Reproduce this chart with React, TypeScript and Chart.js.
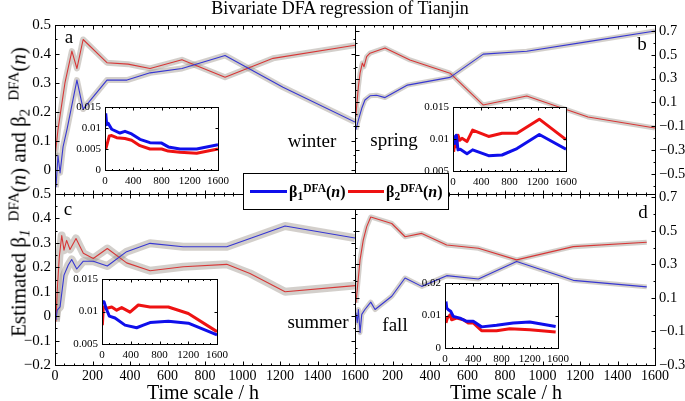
import React, { useEffect, useRef } from "react";
import { Chart, registerables } from "chart.js";

Chart.register(...registerables);

const PAGE_W = 685;
const PAGE_H = 401;
const SERIF = "'Liberation Serif', 'Times New Roman', serif";

// ---------- Panel a : winter ----------
const winterB1Hours = [5, 16, 27, 43, 64, 117, 150, 277, 384, 507, 677, 907, 1216, 1600];
const winterB1Values = [-0.06, 0.05, -0.01, 0.08, 0.14, 0.31, 0.21, 0.31, 0.31, 0.335, 0.35, 0.395, 0.285, 0.165];
const winterB2Hours = [0, 16, 53, 90, 117, 150, 277, 390, 507, 677, 907, 1163, 1600];
const winterB2Values = [0.045, 0.14, 0.3, 0.41, 0.35, 0.45, 0.37, 0.365, 0.35, 0.38, 0.32, 0.385, 0.43];
const winterInsetB1Hours = [10, 24, 47, 95, 212, 283, 377, 495, 637, 802, 896, 1062, 1298, 1600];
const winterInsetB1Values = [0.0135, 0.0108, 0.0111, 0.0097, 0.0088, 0.0092, 0.0086, 0.0073, 0.0065, 0.0064, 0.0055, 0.005, 0.005, 0.006];
const winterInsetB2Hours = [10, 24, 61, 95, 165, 283, 377, 495, 637, 802, 896, 1062, 1298, 1600];
const winterInsetB2Values = [0.005, 0.0058, 0.0081, 0.0082, 0.0077, 0.0075, 0.0071, 0.0058, 0.005, 0.005, 0.0045, 0.0042, 0.004, 0.005];

// ---------- Panel b : spring ----------
const springB1Hours = [5, 18, 36, 53, 80, 115, 160, 280, 507, 684, 916, 1243, 1600];
const springB1Values = [-0.13, -0.05, 0.05, 0.12, 0.155, 0.16, 0.14, 0.245, 0.31, 0.505, 0.53, 0.61, 0.7];
const springB2Hours = [4, 18, 27, 39, 48, 62, 80, 160, 293, 507, 683, 916, 1243, 1600];
const springB2Values = [-0.02, 0.232, 0.345, 0.43, 0.4, 0.484, 0.513, 0.557, 0.456, 0.345, 0.078, 0.154, -0.023, -0.115];
const springInsetB1Hours = [9, 23, 47, 71, 103, 198, 278, 504, 694, 906, 1222, 1600];
const springInsetB1Values = [0.0106, 0.0093, 0.0106, 0.0083, 0.0084, 0.0077, 0.0083, 0.0074, 0.0075, 0.0085, 0.0107, 0.0084];
const springInsetB2Hours = [9, 23, 47, 71, 94, 127, 198, 278, 504, 694, 906, 1222, 1600];
const springInsetB2Values = [0.008, 0.0093, 0.0088, 0.0106, 0.0098, 0.0101, 0.0096, 0.0114, 0.0104, 0.0109, 0.0109, 0.0131, 0.0099];

// ---------- Panel c : summer ----------
const summerB1Hours = [5, 12, 27, 48, 71, 89, 116, 151, 204, 279, 382, 507, 684, 916, 1040, 1227, 1600];
const summerB1Values = [-0.016, 0.025, 0.038, 0.168, 0.209, 0.232, 0.193, 0.225, 0.225, 0.205, 0.264, 0.298, 0.284, 0.284, 0.318, 0.369, 0.32];
const summerB2Hours = [5, 12, 23, 36, 48, 62, 80, 112, 151, 204, 279, 382, 507, 684, 916, 1040, 1227, 1600];
const summerB2Values = [-0.023, 0.107, 0.243, 0.33, 0.27, 0.31, 0.273, 0.318, 0.257, 0.236, 0.277, 0.218, 0.186, 0.202, 0.212, 0.175, 0.1, 0.125];
const summerInsetB1Hours = [0, 28, 56, 102, 181, 320, 482, 575, 668, 923, 1201, 1600];
const summerInsetB1Values = [0.0115, 0.0115, 0.0105, 0.0093, 0.009, 0.0079, 0.0075, 0.0079, 0.0083, 0.0085, 0.0082, 0.0064];
const summerInsetB2Hours = [5, 19, 65, 135, 204, 274, 390, 505, 668, 923, 1201, 1600];
const summerInsetB2Values = [0.0079, 0.0107, 0.0105, 0.0107, 0.0102, 0.0106, 0.0099, 0.011, 0.0107, 0.0107, 0.0097, 0.0069];

// ---------- Panel d : fall ----------
const fallB1Hours = [5, 12, 18, 27, 36, 53, 84, 107, 196, 267, 356, 489, 658, 862, 1164, 1556];
const fallB1Values = [0.012, -0.047, 0.031, -0.107, 0.002, 0.031, 0.075, 0.031, 0.11, 0.219, 0.169, 0.233, 0.213, 0.317, 0.205, 0.166];
const fallB2Hours = [5, 12, 27, 44, 62, 84, 196, 267, 356, 489, 658, 862, 1164, 1556];
const fallB2Values = [0.071, 0.15, 0.327, 0.445, 0.524, 0.583, 0.544, 0.465, 0.485, 0.416, 0.396, 0.327, 0.406, 0.432];
const fallInsetB1Hours = [14, 24, 47, 80, 118, 212, 306, 400, 518, 730, 965, 1200, 1567];
const fallInsetB1Values = [0.0143, 0.0123, 0.0118, 0.0113, 0.0097, 0.0092, 0.0082, 0.0082, 0.0065, 0.007, 0.0077, 0.008, 0.0066];
const fallInsetB2Hours = [14, 33, 71, 94, 165, 259, 329, 400, 518, 730, 918, 1200, 1567];
const fallInsetB2Values = [0.0077, 0.0092, 0.0102, 0.0087, 0.0092, 0.0087, 0.0077, 0.0077, 0.0053, 0.0053, 0.0059, 0.0056, 0.0049];

// ---------- ticks ----------
const mainXTicks = [0, 200, 400, 600, 800, 1000, 1200, 1400, 1600];
const mainXLabelsRight = [200, 400, 600, 800, 1000, 1200, 1400, 1600];
const mainXMinor = [50, 100, 150, 250, 300, 350, 450, 500, 550, 650, 700, 750, 850, 900, 950, 1050, 1100, 1150, 1250, 1300, 1350, 1450, 1500, 1550];
const winterYTicks = [0, 0.1, 0.2, 0.3, 0.4, 0.5];
const winterYMinor = [-0.05, 0.05, 0.15, 0.25, 0.35, 0.45];
const summerYTicks = [-0.2, -0.1, 0, 0.1, 0.2, 0.3, 0.4, 0.5];
const summerYMinor = [-0.15, -0.05, 0.05, 0.15, 0.25, 0.35, 0.45];
const springYTicks = [-0.5, -0.3, -0.1, 0.1, 0.3, 0.5, 0.7];
const springYMinor = [-0.6, -0.4, -0.2, 0, 0.2, 0.4, 0.6];
const fallYTicks = [-0.3, -0.1, 0.1, 0.3, 0.5, 0.7];
const fallYMinor = [-0.2, 0, 0.2, 0.4, 0.6];
const insetXTicks = [0, 400, 800, 1200, 1600];
const insetXMinor = [100, 200, 300, 500, 600, 700, 900, 1000, 1100, 1300, 1400, 1500];
const insetYTicksA = [0, 0.005, 0.01, 0.015];
const insetYTicksBC = [0.005, 0.01, 0.015];
const insetYTicksD = [0, 0.01, 0.02];

const MAIN_BLUE = "rgb(55,55,210)";
const MAIN_RED = "rgb(215,55,55)";
const INSET_BLUE = "rgb(15,15,235)";
const INSET_RED = "rgb(238,18,18)";
const BAND = "rgba(150,140,130,0.42)";

function pts(xs: number[], ys: number[]) {
  return xs.map((x, i) => ({ x, y: ys[i] }));
}

function mainLabel(v: number) {
  const r = Math.round(v * 10) / 10;
  if (r === 0) return "0";
  return (r < 0 ? "\u2212" : "") + Math.abs(r).toString();
}
function insetLabel(v: number) {
  if (Math.abs(v) < 1e-9) return "0";
  return String(+v.toFixed(3));
}

const framePlugin: any = {
  id: "frame",
  beforeDraw(chart: any, _a: any, opts: any) {
    if (!opts || !opts.fill) return;
    const { ctx, chartArea: a } = chart;
    ctx.save();
    ctx.fillStyle = "#fff";
    ctx.fillRect(a.left, a.top, a.right - a.left, a.bottom - a.top);
    ctx.restore();
  },
  afterDraw(chart: any, _a: any, opts: any) {
    const { ctx, chartArea: a, scales } = chart;
    const xs = scales.x;
    const ys = scales.y;
    const L = Math.round(a.left) + 0.5;
    const R = Math.round(a.right) + 0.5;
    const T = Math.round(a.top) + 0.5;
    const B = Math.round(a.bottom) + 0.5;
    ctx.save();
    ctx.strokeStyle = "#000";
    ctx.lineWidth = 1;
    ctx.beginPath();
    const xt = (vals: number[], len: number) => {
      vals.forEach((v) => {
        const p = Math.round(xs.getPixelForValue(v)) + 0.5;
        ctx.moveTo(p, B);
        ctx.lineTo(p, B - len);
        ctx.moveTo(p, T);
        ctx.lineTo(p, T + len);
      });
    };
    const yt = (vals: number[], len: number) => {
      vals.forEach((v) => {
        const p = Math.round(ys.getPixelForValue(v)) + 0.5;
        ctx.moveTo(L, p);
        ctx.lineTo(L + len, p);
        ctx.moveTo(R, p);
        ctx.lineTo(R - len, p);
      });
    };
    xt(opts.xMajor, opts.major);
    xt(opts.xMinor, opts.minor);
    yt(opts.yMajor, opts.major);
    yt(opts.yMinor, opts.minor);
    ctx.stroke();
    ctx.strokeRect(L, T, R - L, B - T);
    ctx.restore();
  },
};

type Series = { x: number[]; y: number[]; color: string };
type PanelSpec = {
  area: [number, number, number, number];
  yPos: "left" | "right";
  yMin: number;
  yMax: number;
  yTicks: number[];
  yMinor: number[];
  yLabel: (v: number) => string;
  yFont: number;
  xTicks: number[];
  xLabels: number[];
  xMinor: number[];
  showX: boolean;
  xFont: number;
  series: Series[];
  lineWidth: number;
  bandWidth: number;
  fill: boolean;
  yw: number;
  xh: number;
  ypad: number;
  xpad: number;
  major: number;
  minor: number;
};

function buildConfig(p: PanelSpec): any {
  const [l, t, r, b] = p.area;
  const datasets: any[] = [];
  p.series.forEach((s) =>
    datasets.push({
      data: pts(s.x, s.y),
      borderColor: s.color,
      borderWidth: p.lineWidth,
      pointRadius: 0,
      tension: 0,
      fill: false,
      clip: 0,
      borderJoinStyle: "round",
    })
  );
  if (p.bandWidth > 0) {
    p.series.forEach((s) =>
      datasets.push({
        data: pts(s.x, s.y),
        borderColor: BAND,
        borderWidth: p.bandWidth,
        pointRadius: 0,
        tension: 0,
        fill: false,
        clip: 0,
        borderJoinStyle: "round",
      })
    );
  }
  return {
    type: "line",
    data: { datasets },
    options: {
      animation: false,
      responsive: false,
      devicePixelRatio: 1,
      events: [],
      layout: {
        padding: {
          left: p.yPos === "left" ? l - p.yw : l,
          right: p.yPos === "right" ? PAGE_W - r - p.yw : PAGE_W - r,
          top: t,
          bottom: PAGE_H - b - p.xh,
        },
      },
      plugins: {
        legend: { display: false },
        tooltip: { enabled: false },
        frame: {
          fill: p.fill,
          xMajor: p.xTicks,
          xMinor: p.xMinor,
          yMajor: p.yTicks,
          yMinor: p.yMinor,
          major: p.major,
          minor: p.minor,
        },
      },
      scales: {
        x: {
          type: "linear",
          min: 0,
          max: 1600,
          grid: { display: false, drawTicks: false },
          border: { display: false },
          afterBuildTicks: (s: any) => {
            s.ticks = p.xLabels.map((v) => ({ value: v }));
          },
          afterFit: (s: any) => {
            s.height = p.xh;
          },
          ticks: {
            display: p.showX,
            autoSkip: false,
            maxRotation: 0,
            padding: p.xpad,
            color: "#000",
            font: { family: SERIF, size: p.xFont },
            callback: (v: any) => String(v),
          },
        },
        y: {
          type: "linear",
          position: p.yPos,
          min: p.yMin,
          max: p.yMax,
          grid: { display: false, drawTicks: false },
          border: { display: false },
          afterBuildTicks: (s: any) => {
            s.ticks = p.yTicks.map((v) => ({ value: v }));
          },
          afterFit: (s: any) => {
            s.width = p.yw;
          },
          ticks: {
            autoSkip: false,
            padding: p.ypad,
            color: "#000",
            font: { family: SERIF, size: p.yFont },
            callback: (v: any) => p.yLabel(Number(v)),
          },
        },
      },
    },
    plugins: [framePlugin],
  };
}

const mainCommon = {
  xTicks: mainXTicks,
  xMinor: mainXMinor,
  xFont: 14,
  yFont: 15,
  lineWidth: 1.1,
  fill: false,
  yw: 46,
  xh: 22,
  ypad: 4,
  xpad: 3,
  major: 4,
  minor: 2,
  yLabel: mainLabel,
};

const insetCommon = {
  xTicks: insetXTicks,
  xLabels: insetXTicks,
  xMinor: insetXMinor,
  showX: true,
  xFont: 11,
  yFont: 11,
  lineWidth: 3,
  bandWidth: 0,
  fill: true,
  yw: 34,
  xh: 18,
  ypad: 4,
  xpad: 5,
  major: 3,
  minor: 1.5,
  yLabel: insetLabel,
  yMinor: [] as number[],
};

const panelConfigs = [
  buildConfig({
    ...mainCommon,
    area: [55, 25, 355, 194],
    yPos: "left",
    yMin: -0.083,
    yMax: 0.5,
    yTicks: winterYTicks,
    yMinor: winterYMinor,
    xLabels: mainXTicks,
    showX: false,
    bandWidth: 6,
    series: [
      { x: winterB1Hours, y: winterB1Values, color: MAIN_BLUE },
      { x: winterB2Hours, y: winterB2Values, color: MAIN_RED },
    ],
  } as PanelSpec),
  buildConfig({
    ...mainCommon,
    area: [355, 25, 655, 194],
    yPos: "right",
    yFont: 14.5,
    yMin: -0.67,
    yMax: 0.75,
    yTicks: springYTicks,
    yMinor: springYMinor,
    xLabels: mainXTicks,
    showX: false,
    bandWidth: 5,
    series: [
      { x: springB1Hours, y: springB1Values, color: MAIN_BLUE },
      { x: springB2Hours, y: springB2Values, color: MAIN_RED },
    ],
  } as PanelSpec),
  buildConfig({
    ...mainCommon,
    area: [55, 194, 355, 365],
    yPos: "left",
    yMin: -0.2,
    yMax: 0.5,
    yTicks: summerYTicks,
    yMinor: summerYMinor,
    xLabels: mainXTicks,
    showX: true,
    bandWidth: 8,
    series: [
      { x: summerB1Hours, y: summerB1Values, color: MAIN_BLUE },
      { x: summerB2Hours, y: summerB2Values, color: MAIN_RED },
    ],
  } as PanelSpec),
  buildConfig({
    ...mainCommon,
    area: [355, 194, 655, 365],
    yPos: "right",
    yFont: 14.5,
    yMin: -0.3,
    yMax: 0.72,
    yTicks: fallYTicks,
    yMinor: fallYMinor,
    xLabels: mainXLabelsRight,
    showX: true,
    bandWidth: 5,
    series: [
      { x: fallB1Hours, y: fallB1Values, color: MAIN_BLUE },
      { x: fallB2Hours, y: fallB2Values, color: MAIN_RED },
    ],
  } as PanelSpec),
  buildConfig({
    ...insetCommon,
    area: [105, 107, 218, 170],
    yPos: "left",
    yMin: 0,
    yMax: 0.015,
    yTicks: insetYTicksA,
    series: [
      { x: winterInsetB2Hours, y: winterInsetB2Values, color: INSET_RED },
      { x: winterInsetB1Hours, y: winterInsetB1Values, color: INSET_BLUE },
    ],
  } as PanelSpec),
  buildConfig({
    ...insetCommon,
    area: [453, 107, 566, 171],
    yPos: "left",
    yMin: 0.005,
    yMax: 0.015,
    yTicks: insetYTicksBC,
    series: [
      { x: springInsetB1Hours, y: springInsetB1Values, color: INSET_BLUE },
      { x: springInsetB2Hours, y: springInsetB2Values, color: INSET_RED },
    ],
  } as PanelSpec),
  buildConfig({
    ...insetCommon,
    area: [102, 279, 217, 344],
    yPos: "left",
    yMin: 0.005,
    yMax: 0.015,
    yTicks: insetYTicksBC,
    series: [
      { x: summerInsetB1Hours, y: summerInsetB1Values, color: INSET_BLUE },
      { x: summerInsetB2Hours, y: summerInsetB2Values, color: INSET_RED },
    ],
  } as PanelSpec),
  buildConfig({
    ...insetCommon,
    area: [445, 283, 558, 348],
    yPos: "left",
    yMin: 0,
    yMax: 0.02,
    yTicks: insetYTicksD,
    series: [
      { x: fallInsetB1Hours, y: fallInsetB1Values, color: INSET_BLUE },
      { x: fallInsetB2Hours, y: fallInsetB2Values, color: INSET_RED },
    ],
  } as PanelSpec),
];

function ChartCanvas({ config }: { config: any }) {
  const ref = useRef<HTMLCanvasElement | null>(null);
  useEffect(() => {
    if (!ref.current) return;
    const chart = new Chart(ref.current, config);
    return () => chart.destroy();
  }, [config]);
  return (
    <canvas
      ref={ref}
      width={PAGE_W}
      height={PAGE_H}
      style={{ position: "absolute", left: 0, top: 0, width: PAGE_W, height: PAGE_H }}
    />
  );
}

// text placed by horizontal center and baseline
function Txt({ x, base, size, children, style }: any) {
  return (
    <div
      style={{
        position: "absolute",
        left: x,
        top: base - size * 0.84,
        transform: "translateX(-50%)",
        fontSize: size,
        lineHeight: 1,
        whiteSpace: "nowrap",
        ...style,
      }}
    >
      {children}
    </div>
  );
}

const subS: any = { fontSize: "0.72em", verticalAlign: "-0.25em", lineHeight: 0 };
const supS: any = { fontSize: "0.72em", verticalAlign: "0.45em", lineHeight: 0 };

function BetaLabel({ idx, italicSub, gap }: { idx: string; italicSub?: boolean; gap?: number }) {
  return (
    <>
      β
      <span style={{ ...subS, fontStyle: italicSub ? "italic" : "normal", marginRight: gap || 0 }}>{idx}</span>
      <span style={supS}>DFA</span>(<i>n</i>)
    </>
  );
}

export default function App() {
  return (
    <div
      style={{
        position: "absolute",
        left: 0,
        top: 0,
        width: PAGE_W,
        height: PAGE_H,
        background: "#fff",
        overflow: "hidden",
        fontFamily: SERIF,
        color: "#000",
      }}
    >
      {panelConfigs.map((c, i) => (
        <ChartCanvas key={i} config={c} />
      ))}

      <Txt x={340} base={14} size={18}>Bivariate DFA regression of Tianjin</Txt>

      <Txt x={69} base={43} size={19}>a</Txt>
      <Txt x={642} base={50} size={19}>b</Txt>
      <Txt x={68} base={215} size={19}>c</Txt>
      <Txt x={643} base={218} size={19}>d</Txt>

      <Txt x={312} base={147} size={19}>winter</Txt>
      <Txt x={394} base={146} size={19}>spring</Txt>
      <Txt x={318} base={328} size={19}>summer</Txt>
      <Txt x={395} base={331} size={19}>fall</Txt>

      <Txt x={203} base={399} size={20}>Time scale / h</Txt>
      <Txt x={506} base={399} size={20}>Time scale / h</Txt>

      <div
        style={{
          position: "absolute",
          left: 19,
          top: 192,
          transform: "translate(-50%,-50%) rotate(-90deg)",
          whiteSpace: "nowrap",
          fontSize: 21,
          lineHeight: 1,
        }}
      >
        Estimated <BetaLabel idx="1" italicSub gap={8} /> and <BetaLabel idx="2" gap={8} />
      </div>

      <div
        style={{
          position: "absolute",
          left: 243,
          top: 173,
          width: 206,
          height: 37,
          boxSizing: "border-box",
          border: "1px solid #000",
          background: "#fff",
        }}
      />
      <div style={{ position: "absolute", left: 250, top: 190, width: 37, height: 3, background: INSET_BLUE }} />
      <div style={{ position: "absolute", left: 348, top: 190, width: 36, height: 3, background: INSET_RED }} />
      <div
        style={{
          position: "absolute",
          left: 289,
          top: 197 - 16 * 0.84,
          fontSize: 16,
          lineHeight: 1,
          fontWeight: "bold",
          whiteSpace: "nowrap",
        }}
      >
        <BetaLabel idx="1" />
      </div>
      <div
        style={{
          position: "absolute",
          left: 386,
          top: 197 - 16 * 0.84,
          fontSize: 16,
          lineHeight: 1,
          fontWeight: "bold",
          whiteSpace: "nowrap",
        }}
      >
        <BetaLabel idx="2" />
      </div>
    </div>
  );
}
